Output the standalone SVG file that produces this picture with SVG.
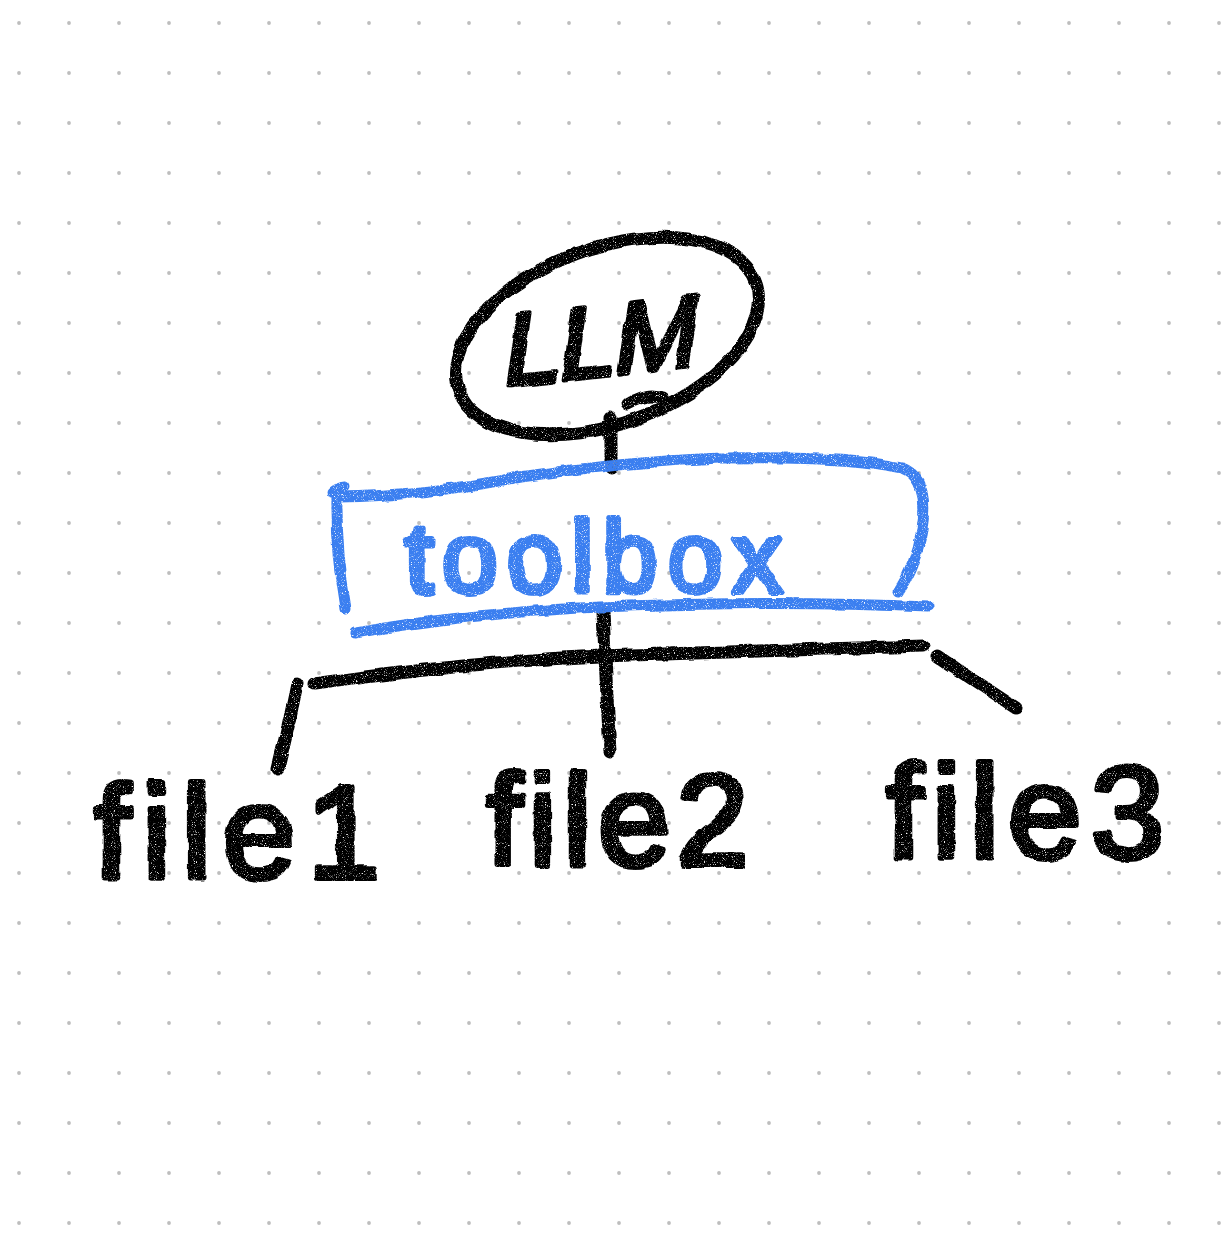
<svg xmlns="http://www.w3.org/2000/svg" width="1232" height="1243" viewBox="0 0 1232 1243">
  <defs>
    <pattern id="dots" x="0" y="0" width="50" height="50" patternUnits="userSpaceOnUse">
      <circle cx="19" cy="23" r="1.9" fill="#bdbdbd"/>
    </pattern>
    <filter id="crayon" x="-10%" y="-10%" width="120%" height="120%">
      <feTurbulence type="fractalNoise" baseFrequency="0.05" numOctaves="2" seed="3" result="warp"/>
      <feDisplacementMap in="SourceGraphic" in2="warp" scale="5" xChannelSelector="R" yChannelSelector="G" result="disp"/>
      <feTurbulence type="fractalNoise" baseFrequency="0.9" numOctaves="2" seed="7" result="grain"/>
      <feColorMatrix in="grain" type="matrix" values="0 0 0 0 0  0 0 0 0 0  0 0 0 0 0  -5 0 0 0 4.0" result="mask"/>
      <feComposite in="disp" in2="mask" operator="in"/>
    </filter>
  </defs>
  <style>
    .ink { fill: none; stroke: #000; stroke-width: 13; stroke-linecap: round; stroke-linejoin: round; }
    .blue { fill: none; stroke: #3b7ff0; stroke-width: 11; stroke-linecap: round; stroke-linejoin: round; }
    .hand { font-family: "Liberation Sans", "DejaVu Sans", sans-serif; stroke-linejoin: round; stroke-linecap: round; }
    .black { fill: #000; stroke: #000; stroke-width: 6; }
    .bluet { fill: #3b7ff0; stroke: #3b7ff0; stroke-width: 6; }
  </style>
  <rect width="1232" height="1243" fill="#ffffff"/>
  <rect width="1232" height="1243" fill="url(#dots)"/>

  <g id="connectors" filter="url(#crayon)">
    <path class="ink" d="M611 418 L611 468"/>
    <path class="ink" d="M603 612 Q606 680 610 752"/>
    <path class="ink" d="M314 684 Q470 662 600 656 Q780 650 924 646"/>
    <path class="ink" d="M297 684 Q288 728 278 768"/>
    <path class="ink" d="M937 656 L1016 708"/>
  </g>

  <g id="llm" filter="url(#crayon)">
    <ellipse class="ink" cx="607" cy="336" rx="158" ry="88" transform="rotate(-20 607 336)"/>
    <path class="ink" d="M628 404 Q648 392 662 398"/>
    <text class="hand black" transform="translate(598 376) rotate(-6) skewX(-14)" text-anchor="middle" font-size="100">LLM</text>
  </g>

  <g id="toolbox" filter="url(#crayon)">
    <path class="blue" d="M332 492 Q336 488 345 487 M340 497 Q420 496 520 477 Q620 462 720 458 Q850 456 902 468 Q930 478 922 530 Q916 565 898 592"/>
    <path class="blue" d="M337 495 Q336 550 346 608"/>
    <path class="blue" d="M355 633 Q460 614 600 607 Q780 600 928 607"/>
    <text class="hand bluet" x="598" y="592" text-anchor="middle" font-size="100" letter-spacing="9">toolbox</text>
  </g>

  <g id="file1" filter="url(#crayon)">
    <text class="hand black" x="94" y="878" font-size="132" letter-spacing="11">file1</text>
  </g>
  <g id="file2" filter="url(#crayon)">
    <text class="hand black" x="486" y="865" font-size="130" letter-spacing="6">file2</text>
  </g>
  <g id="file3" filter="url(#crayon)">
    <text class="hand black" x="886" y="858" font-size="132" letter-spacing="9">file3</text>
  </g>
</svg>
